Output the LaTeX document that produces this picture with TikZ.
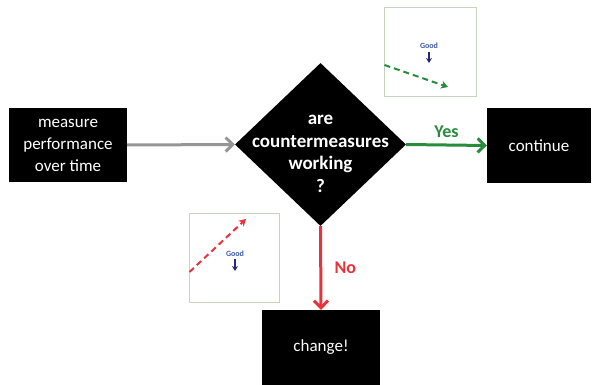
\documentclass[tikz,border=0pt]{standalone}
\usepackage{fontspec}
\setmainfont{Carlito}
\usetikzlibrary{arrows.meta,shapes.geometric}
\definecolor{ygreen}{RGB}{40,140,60}
\definecolor{nred}{RGB}{232,50,60}
\definecolor{agray}{RGB}{150,150,150}
\definecolor{gblue}{RGB}{60,90,170}
\definecolor{navy}{RGB}{40,40,120}
\definecolor{frame}{RGB}{200,212,190}
\begin{document}
\begin{tikzpicture}[x=1pt,y=-1pt,
  blackbox/.style={draw=none,fill=black,text=white,align=center,inner sep=0pt,
    font=\fontsize{17}{22}\selectfont},
  conn/.style={line width=3pt,-{Straight Barb[length=7pt,width=14pt,line width=3pt]}},
  lbl/.style={font=\bfseries\fontsize{18}{21}\selectfont},
  chart/.style={draw=frame,line width=0.8pt,fill=white,inner sep=0pt},
  trend/.style={dash pattern=on 6pt off 4pt,line width=2pt,-{Stealth[length=7pt,width=8pt]}},
  goodtxt/.style={font=\bfseries\fontsize{8}{9}\selectfont,text=gblue,inner sep=0pt},
  goodarr/.style={navy,line width=1.6pt,-{Stealth[length=5pt,width=6pt]}}
]
\useasboundingbox (0,0) rectangle (602,385);
% boxes
\node[blackbox,minimum width=118pt,minimum height=74pt] (measure) at (68,145) {measure\\performance\\over time};
\node[blackbox,minimum width=104pt,minimum height=75pt] (cont) at (539,145.5) {continue};
\node[blackbox,minimum width=118pt,minimum height=75pt] (change) at (321,347.5) {change!};
% decision diamond
\node[diamond,fill=black,inner sep=0pt,minimum width=171pt,minimum height=163pt] (q) at (320.5,144.5) {};
\node[text=white,align=center,font=\bfseries\fontsize{19}{22.5}\selectfont,inner sep=0pt] (qtext) at (320.5,154) {are\\countermeasures\\working\\?};
% connectors
\draw[conn,agray] (measure.east) -- (q.west);
\draw[conn,ygreen] (q.east) -- node[lbl,text=ygreen,above=3pt] (yes) {Yes} (cont.west);
\draw[conn,nred] (q.south) -- node[lbl,text=nred,right=9pt] (no) {No} (change.north);
% mini chart top right
\node[chart,minimum width=92pt,minimum height=89pt] (chartA) at (430,51.5) {};
\node[goodtxt] (goodA) at (429,46) {Good};
\coordinate (gaS) at (429,52);
\coordinate (gaE) at (429,63);
\draw[goodarr] (gaS) -- (gaE);
\coordinate (tA1) at (384.5,65);
\coordinate (tA2) at (448,87);
\draw[trend,ygreen] (tA1) -- (tA2);
% mini chart bottom left
\node[chart,minimum width=90pt,minimum height=89pt] (chartB) at (234,257.5) {};
\node[goodtxt] (goodB) at (235,254) {Good};
\coordinate (gbS) at (235,259);
\coordinate (gbE) at (235,271);
\draw[goodarr] (gbS) -- (gbE);
\coordinate (tB1) at (189.5,272);
\coordinate (tB2) at (246,219);
\draw[trend,nred] (tB1) -- (tB2);
\end{tikzpicture}
\end{document}
